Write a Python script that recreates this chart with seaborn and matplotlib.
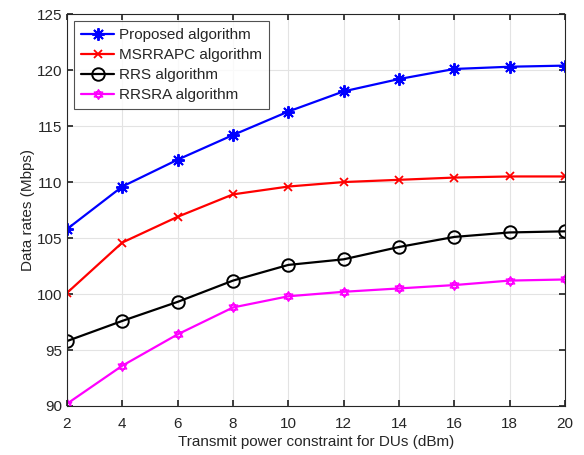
import numpy as np
import pandas as pd
import matplotlib
matplotlib.use("Agg")
import matplotlib.pyplot as plt
import seaborn as sns
from matplotlib.path import Path

power = [2, 4, 6, 8, 10, 12, 14, 16, 18, 20]
proposed = [105.8, 109.6, 112.0, 114.2, 116.3, 118.1, 119.2, 120.1, 120.3, 120.4]
msrrapc = [100.1, 104.6, 106.9, 108.9, 109.6, 110.0, 110.2, 110.4, 110.5, 110.5]
rrs = [95.8, 97.6, 99.3, 101.2, 102.6, 103.1, 104.2, 105.1, 105.5, 105.6]
rrsra = [90.2, 93.6, 96.4, 98.8, 99.8, 100.2, 100.5, 100.8, 101.2, 101.3]
labels = ["Proposed algorithm", "MSRRAPC algorithm", "RRS algorithm", "RRSRA algorithm"]

sns.set_theme(style="white")
plt.rcParams['font.family'] = ['Liberation Sans', 'DejaVu Sans']

df = pd.DataFrame({
    "x": power * 4,
    "y": proposed + msrrapc + rrs + rrsra,
    "series": sum([[l] * len(power) for l in labels], []),
})

# hexagram marker
ang1 = np.deg2rad(np.arange(90, 450, 120))
ang2 = ang1 + np.pi
tri1 = np.c_[np.cos(ang1), np.sin(ang1)]
tri2 = np.c_[np.cos(ang2), np.sin(ang2)]
verts = np.vstack([tri1, tri1[:1], tri2, tri2[:1]])
codes = [Path.MOVETO, Path.LINETO, Path.LINETO, Path.CLOSEPOLY] * 2
hexagram = Path(verts, codes)

fig = plt.figure(figsize=(5.84, 4.55), dpi=100)
ax = fig.add_axes([0.1147, 0.1077, 0.8528, 0.8613])

colors = {"Proposed algorithm": "#0000ff", "MSRRAPC algorithm": "#ff0000",
          "RRS algorithm": "#000000", "RRSRA algorithm": "#ff00ff"}
markers = {"Proposed algorithm": (8, 2, 0), "MSRRAPC algorithm": "x",
           "RRS algorithm": "o", "RRSRA algorithm": hexagram}
sizes = {"Proposed algorithm": 9, "MSRRAPC algorithm": 6,
         "RRS algorithm": 9, "RRSRA algorithm": 7}
mews = {"Proposed algorithm": 1.4, "MSRRAPC algorithm": 1.3,
        "RRS algorithm": 1.4, "RRSRA algorithm": 1.0}

for lab in labels:
    sub = df[df.series == lab]
    sns.lineplot(data=sub, x="x", y="y", ax=ax, color=colors[lab], label=lab,
                 marker=markers[lab], markersize=sizes[lab], linewidth=1.6,
                 markerfacecolor="none", markeredgecolor=colors[lab],
                 markeredgewidth=mews[lab])

ax.set_xlim(2, 20)
ax.set_ylim(90, 125)
ax.set_xticks(power)
ax.set_yticks(np.arange(90, 126, 5))
ax.tick_params(direction="in", length=4, labelsize=11, colors="#262626",
               top=True, right=True, bottom=True, left=True)
ax.tick_params(axis="x", pad=8)
ax.grid(True, color="#e3e3e3", linewidth=0.8)
for s in ax.spines.values():
    s.set_color("#262626")
    s.set_linewidth(0.8)
ax.set_xlabel("Transmit power constraint for DUs (dBm)", fontsize=11, color="#262626", labelpad=3)
ax.set_ylabel("Data rates (Mbps)", fontsize=11, color="#262626", labelpad=1)
leg = ax.legend(loc="upper left", fontsize=11, frameon=True, fancybox=False,
                edgecolor="#262626", borderpad=0.45, labelspacing=0.4,
                handlelength=2.2, handletextpad=0.3, borderaxespad=0.45)
leg.get_frame().set_linewidth(0.8)

fig.savefig("out.png", dpi=100)
